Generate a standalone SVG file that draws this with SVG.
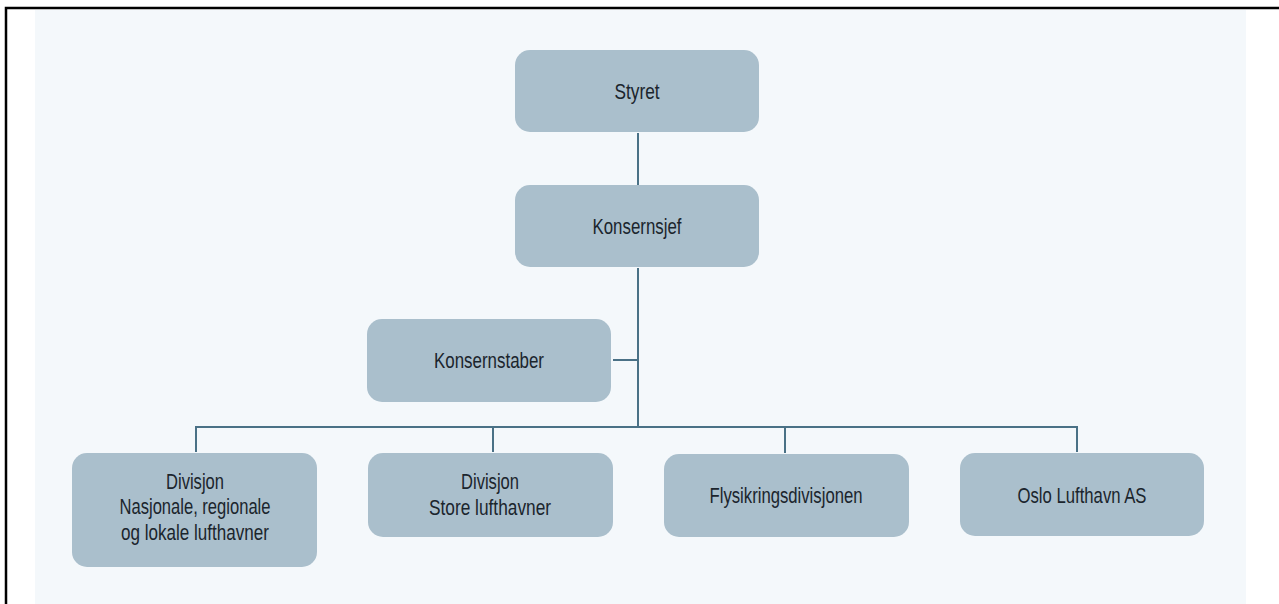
<svg xmlns="http://www.w3.org/2000/svg" width="1279" height="604" viewBox="0 0 1279 604">
<style>
.box{fill:#aabfcc}
.t{font-family:"Liberation Sans",Arial,sans-serif;font-size:22px;fill:#1b252d;text-anchor:middle}
.ln{stroke:#4a7186;stroke-width:2;fill:none}
</style>
<rect x="0" y="0" width="1279" height="604" fill="#ffffff"/>
<rect x="35" y="10" width="1211" height="594" fill="#f4f8fb"/>
<path d="M6 604 V8 H1279" stroke="#000" stroke-width="2.5" fill="none"/>
<g id="connectors">
<path class="ln" d="M638 133 V185"/>
<path class="ln" d="M638 268 V427"/>
<path class="ln" d="M613 360 H638"/>
<path class="ln" d="M196 452 V427 H1077 V452"/>
<path class="ln" d="M493 427 V452"/>
<path class="ln" d="M785 427 V453"/>
</g>
<g id="styret">
<rect class="box" x="515" y="50" width="244" height="82" rx="15"/>
<text class="t" x="637" y="99" textLength="45" lengthAdjust="spacingAndGlyphs">Styret</text>
</g>
<g id="konsernsjef">
<rect class="box" x="515" y="185" width="244" height="82" rx="15"/>
<text class="t" x="637" y="234" textLength="89" lengthAdjust="spacingAndGlyphs">Konsernsjef</text>
</g>
<g id="konsernstaber">
<rect class="box" x="367" y="319" width="244" height="83" rx="15"/>
<text class="t" x="489" y="368" textLength="110" lengthAdjust="spacingAndGlyphs">Konsernstaber</text>
</g>
<g id="div-nasjonale">
<rect class="box" x="72" y="453" width="245" height="114" rx="15"/>
<text class="t" x="195" y="489" textLength="58" lengthAdjust="spacingAndGlyphs">Divisjon</text>
<text class="t" x="195" y="514" textLength="151" lengthAdjust="spacingAndGlyphs">Nasjonale, regionale</text>
<text class="t" x="195" y="540" textLength="148" lengthAdjust="spacingAndGlyphs">og lokale lufthavner</text>
</g>
<g id="div-store">
<rect class="box" x="368" y="453" width="245" height="84" rx="15"/>
<text class="t" x="490" y="489" textLength="58" lengthAdjust="spacingAndGlyphs">Divisjon</text>
<text class="t" x="490" y="515" textLength="122" lengthAdjust="spacingAndGlyphs">Store lufthavner</text>
</g>
<g id="flysikring">
<rect class="box" x="664" y="454" width="245" height="83" rx="15"/>
<text class="t" x="786" y="503" textLength="153" lengthAdjust="spacingAndGlyphs">Flysikringsdivisjonen</text>
</g>
<g id="osl">
<rect class="box" x="960" y="453" width="244" height="83" rx="15"/>
<text class="t" x="1082" y="503" textLength="129" lengthAdjust="spacingAndGlyphs">Oslo Lufthavn AS</text>
</g>
</svg>
